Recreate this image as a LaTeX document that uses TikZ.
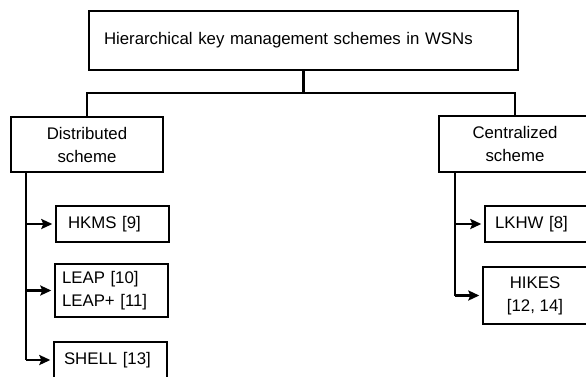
\documentclass[tikz,border=0pt]{standalone}
\usepackage{fontspec}
\setmainfont{Liberation Sans}
\usetikzlibrary{arrows.meta}
\begin{document}
\begin{tikzpicture}[x=1pt,y=-1pt]
  \tikzset{box/.style = {draw, rectangle, line width=2.4pt, inner sep=0pt, font=\fontsize{16.8}{23}\selectfont}}
  \tikzset{leaf/.style = {box, minimum height=36pt, align=left, inner xsep=11pt, text width=91pt}}
  \tikzset{link/.style = {line width=2.4pt}}
  \tikzset{feed/.style = {link, shorten >=2.5pt, -{Stealth[length=11pt,width=10pt,inset=2pt]}}}

  \useasboundingbox (0,0) rectangle (586,376);

  % Root and the two schemes
  \node [box, minimum height=59pt, inner xsep=15pt, text width=399pt, align=left] (root) at (303.5,40.5) {Hierarchical key management schemes in WSNs};
  \node [box, minimum width=152pt, minimum height=55pt, align=center] (dist) at (87,144.5) {Distributed\\scheme};
  \node [box, minimum width=152pt, minimum height=56pt, align=center] (cent) at (515,144) {Centralized\\scheme};

  \draw[link] (root.south) -- ++(0,21.5) coordinate (fork);
  \draw[link] (dist.north) |- (fork) -| (cent.north);

  % Distributed side
  \node [leaf, inner xsep=12pt, text width=89pt] (hkms) at (112.5,224) {HKMS [9]};
  \node [leaf, minimum height=53pt, inner xsep=7pt, text width=99pt] (leap) at (111.5,290.5) {LEAP [10]\\LEAP+ [11]};
  \node [leaf, inner xsep=10pt, text width=93pt] (shell) at (110.5,360) {SHELL [13]};

  \coordinate (dspine) at (26,172);
  \draw[link] (dspine) -- (dspine |- shell.west);
  \draw[feed] (dspine |- hkms.west) -- (hkms.west);
  \draw[feed] (dspine |- leap.west) -- (leap.west);
  \draw[feed] (dspine |- shell.west) -- (shell.west);

  % Centralized side
  \node [leaf, minimum width=105pt, inner xsep=10pt, text width=85pt] (lkhw) at (537.5,224) {LKHW [8]};
  \node [box, minimum width=104pt, minimum height=57pt, align=center] (hikes) at (535,295.5) {HIKES\\{}[12, 14]};

  \coordinate (cspine) at (455,172);
  \draw[link] (cspine) -- (cspine |- hikes.west);
  \draw[feed] (cspine |- lkhw.west) -- (lkhw.west);
  \draw[feed] (cspine |- hikes.west) -- (hikes.west);
\end{tikzpicture}
\end{document}
